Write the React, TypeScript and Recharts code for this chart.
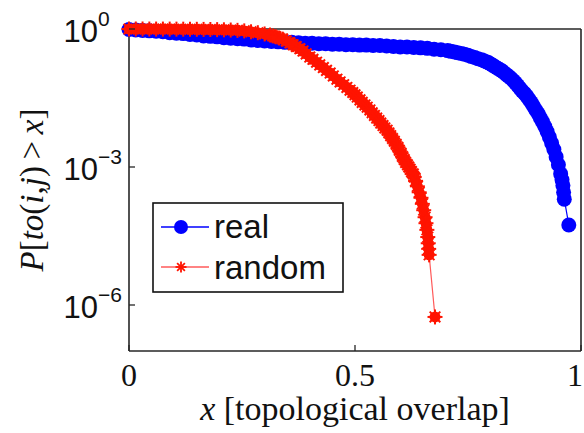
import React from 'react';
import { LineChart, Line, XAxis, YAxis, Legend } from 'recharts';

// ---- data ----
const realX = [0, 0.015, 0.03, 0.045, 0.06, 0.075, 0.09, 0.105, 0.12, 0.135, 0.15, 0.165, 0.18, 0.195, 0.21, 0.225, 0.24, 0.255, 0.27, 0.285, 0.3, 0.315, 0.33, 0.345, 0.36, 0.375, 0.39, 0.405, 0.42, 0.435, 0.45, 0.465, 0.48, 0.495, 0.51, 0.525, 0.54, 0.555, 0.57, 0.585, 0.6, 0.615, 0.63, 0.645, 0.66, 0.675, 0.69, 0.705, 0.712, 0.72, 0.727, 0.735, 0.742, 0.75, 0.757, 0.765, 0.772, 0.78, 0.785, 0.79, 0.795, 0.8, 0.805, 0.81, 0.815, 0.82, 0.825, 0.83, 0.835, 0.84, 0.845, 0.85, 0.855, 0.86, 0.865, 0.87, 0.875, 0.88, 0.885, 0.89, 0.895, 0.9, 0.905, 0.91, 0.915, 0.92, 0.925, 0.93, 0.935, 0.94, 0.945, 0.95, 0.955, 0.958, 0.96, 0.9615, 0.963, 0.973];
const realY = [0.977, 0.955, 0.933, 0.912, 0.891, 0.871, 0.832, 0.813, 0.794, 0.759, 0.741, 0.708, 0.692, 0.676, 0.646, 0.631, 0.617, 0.603, 0.575, 0.562, 0.55, 0.537, 0.525, 0.513, 0.513, 0.501, 0.49, 0.49, 0.479, 0.479, 0.468, 0.468, 0.457, 0.457, 0.447, 0.447, 0.437, 0.437, 0.427, 0.417, 0.407, 0.407, 0.398, 0.389, 0.38, 0.363, 0.355, 0.339, 0.327, 0.316, 0.305, 0.295, 0.282, 0.269, 0.254, 0.24, 0.226, 0.214, 0.204, 0.195, 0.186, 0.174, 0.162, 0.151, 0.141, 0.132, 0.123, 0.112, 0.102, 0.0933, 0.0851, 0.0759, 0.0676, 0.0589, 0.0513, 0.0447, 0.0398, 0.0347, 0.0295, 0.0251, 0.0209, 0.0174, 0.0145, 0.0117, 0.00955, 0.00759, 0.00589, 0.00447, 0.00331, 0.0024, 0.00166, 0.00112, 0.000708, 0.000525, 0.000398, 0.000282, 0.0002, 0.000055];

const randomX = [0, 0.015, 0.03, 0.045, 0.06, 0.075, 0.09, 0.105, 0.12, 0.135, 0.15, 0.165, 0.18, 0.195, 0.21, 0.225, 0.24, 0.255, 0.27, 0.285, 0.3, 0.312, 0.318, 0.325, 0.332, 0.34, 0.348, 0.356, 0.363, 0.37, 0.378, 0.385, 0.392, 0.4, 0.407, 0.415, 0.422, 0.43, 0.437, 0.445, 0.452, 0.46, 0.467, 0.475, 0.482, 0.489, 0.495, 0.5, 0.505, 0.511, 0.516, 0.522, 0.527, 0.533, 0.538, 0.543, 0.548, 0.553, 0.557, 0.562, 0.566, 0.571, 0.575, 0.579, 0.583, 0.587, 0.591, 0.595, 0.598, 0.602, 0.605, 0.609, 0.612, 0.616, 0.619, 0.622, 0.625, 0.629, 0.631, 0.634, 0.638, 0.642, 0.646, 0.649, 0.652, 0.655, 0.657, 0.659, 0.661, 0.662, 0.663, 0.664, 0.677];
const randomY = [1, 1, 1, 0.998, 0.997, 0.996, 0.995, 0.993, 0.991, 0.988, 0.985, 0.98, 0.975, 0.968, 0.96, 0.95, 0.935, 0.91, 0.87, 0.83, 0.78, 0.74, 0.708, 0.676, 0.638, 0.603, 0.55, 0.5, 0.457, 0.417, 0.372, 0.331, 0.288, 0.245, 0.219, 0.19, 0.166, 0.145, 0.126, 0.11, 0.0955, 0.0813, 0.0708, 0.0617, 0.0537, 0.0468, 0.0417, 0.0372, 0.0331, 0.0288, 0.0254, 0.0224, 0.02, 0.0174, 0.0151, 0.0132, 0.0116, 0.0102, 0.00902, 0.00794, 0.00708, 0.00631, 0.0055, 0.00479, 0.00417, 0.00363, 0.00313, 0.00269, 0.00232, 0.002, 0.0017, 0.00145, 0.00126, 0.00112, 0.001, 0.00089, 0.000794, 0.000708, 0.000603, 0.0005, 0.00038, 0.000282, 0.000214, 0.000158, 0.000115, 0.000081, 0.00006, 0.000043, 0.00003, 0.000022, 0.0000166, 0.0000123, 0.00000055];

const xTicks = [0, 0.5, 1];
const xTickLabels = ['0', '0.5', '1'];
const yTicks = [1, 1e-3, 1e-6];
const yTickExponents = ['0', '\u22123', '\u22126'];
const seriesNames = ['real', 'random'];

const realData = realX.map((x, i) => ({ x, y: realY[i] }));
const randomData = randomX.map((x, i) => ({ x, y: randomY[i] }));

const BLUE = '#0000ff';
const RED = '#ff1400';
const RED_LINE = '#ff5a5a';
const AXIS = '#262626';
const SANS = '"Liberation Sans", Arial, Helvetica, sans-serif';
const SERIF = '"Liberation Serif", "Times New Roman", serif';

function Star({ cx, cy, r, core, sw }: any) {
  const d = r * 0.7071;
  return (
    <g>
      {core > 0 && <circle cx={cx} cy={cy} r={core} fill={RED} />}
      <line x1={cx - r} y1={cy} x2={cx + r} y2={cy} stroke={RED} strokeWidth={sw} />
      <line x1={cx} y1={cy - r} x2={cx} y2={cy + r} stroke={RED} strokeWidth={sw} />
      <line x1={cx - d} y1={cy - d} x2={cx + d} y2={cy + d} stroke={RED} strokeWidth={sw} />
      <line x1={cx - d} y1={cy + d} x2={cx + d} y2={cy - d} stroke={RED} strokeWidth={sw} />
    </g>
  );
}

const renderBlueDot = (p: any) => (
  <circle key={`b-${p.index}`} cx={p.cx} cy={p.cy} r={7.5} fill={BLUE} />
);
const renderRedDot = (p: any) => (
  <g key={`r-${p.index}`}>
    <Star cx={p.cx} cy={p.cy} r={7.5} core={5.5} sw={2} />
  </g>
);

function findIdx(arr: number[], v: number) {
  for (let i = 0; i < arr.length; i++) {
    if (arr[i] === v || Math.abs(Math.log10(arr[i]) - Math.log10(v)) < 1e-6) return i;
  }
  return -1;
}

function YTickLeft(props: any) {
  const { x, y, payload } = props;
  const i = findIdx(yTicks, payload.value);
  return (
    <g>
      <line x1={x} y1={y} x2={x + 6} y2={y} stroke={AXIS} strokeWidth={1.3} />
      <text x={x - 31} y={y + 13} textAnchor="end" fontFamily={SANS} fontSize={31} fill="#111">10</text>
      <text x={x - 31} y={y - 3} textAnchor="start" fontFamily={SANS} fontSize={21} fill="#111">{yTickExponents[i]}</text>
    </g>
  );
}

function YTickRight(props: any) {
  const { x, y } = props;
  return <line x1={x - 6} y1={y} x2={x} y2={y} stroke={AXIS} strokeWidth={1.3} />;
}

function XTickBottom(props: any) {
  const { x, y, payload } = props;
  const i = xTicks.indexOf(payload.value);
  const tx = i === xTicks.length - 1 ? x - 6 : x;
  return (
    <g>
      <line x1={x} y1={y} x2={x} y2={y - 6} stroke={AXIS} strokeWidth={1.3} />
      <text x={tx} y={y + 35} textAnchor="middle" fontFamily={SERIF} fontSize={32} fill="#111">{xTickLabels[i]}</text>
    </g>
  );
}

function XTickTop(props: any) {
  const { x, y } = props;
  return <line x1={x} y1={y} x2={x} y2={y + 6} stroke={AXIS} strokeWidth={1.3} />;
}

const XTitle = (props: any) => {
  const vb = props.viewBox || { x: 129, y: 351, width: 452 };
  const cx = vb.x + vb.width / 2;
  return (
    <text x={cx} y={vb.y + 69} textAnchor="middle" fontFamily={SERIF} fontSize={34} fill="#111">
      <tspan fontStyle="italic">x</tspan>
      <tspan> [topological overlap]</tspan>
    </text>
  );
};

const YTitle = (props: any) => {
  const vb = props.viewBox || { x: 0, y: 29, width: 129, height: 322 };
  const cy = vb.y + vb.height / 2;
  const bx = 43;
  return (
    <text x={bx} y={cy} transform={`rotate(-90, ${bx}, ${cy})`} textAnchor="middle" fontFamily={SERIF} fontSize={33} fill="#111">
      <tspan fontStyle="italic">P</tspan>
      <tspan>[</tspan>
      <tspan fontStyle="italic">to</tspan>
      <tspan>(</tspan>
      <tspan fontStyle="italic">i</tspan>
      <tspan>,</tspan>
      <tspan fontStyle="italic">j</tspan>
      <tspan>){'\u2009'}&gt;{'\u2009'}</tspan>
      <tspan fontStyle="italic">x</tspan>
      <tspan>]</tspan>
    </text>
  );
};

const LegendBox = () => (
  <svg width={192} height={91} style={{ display: 'block' }}>
    <rect x={1} y={1} width={190} height={89} fill="#fff" stroke="#111" strokeWidth={1.6} />
    <line x1={9} y1={25} x2={57} y2={25} stroke={BLUE} strokeWidth={1.3} />
    <circle cx={29} cy={25} r={7} fill={BLUE} />
    <text x={62} y={36} fontFamily={SANS} fontSize={33} fill="#111">{seriesNames[0]}</text>
    <line x1={9} y1={65} x2={57} y2={65} stroke={RED_LINE} strokeWidth={1.3} />
    <Star cx={29} cy={65} r={5.5} core={0} sw={1.8} />
    <text x={62} y={77} fontFamily={SANS} fontSize={33} fill="#111">{seriesNames[1]}</text>
  </svg>
);

export default function App() {
  return (
    <div style={{ position: 'absolute', left: 0, top: 0, width: 584, height: 433, background: '#fff' }}>
      <LineChart width={584} height={433} margin={{ top: 28, right: 2, bottom: 0, left: 0 }}>
        <XAxis
          xAxisId="bottom"
          dataKey="x"
          type="number"
          domain={[0, 1]}
          ticks={xTicks}
          orientation="bottom"
          height={82}
          tickSize={0}
          tickMargin={0}
          tickLine={false}
          axisLine={{ stroke: AXIS, strokeWidth: 1.6 }}
          tick={<XTickBottom />}
          label={{ content: XTitle } as any}
          interval={0}
        />
        <XAxis
          xAxisId="top"
          dataKey="x"
          type="number"
          domain={[0, 1]}
          ticks={xTicks}
          orientation="top"
          height={1}
          tickSize={0}
          tickMargin={0}
          tickLine={false}
          axisLine={{ stroke: AXIS, strokeWidth: 1.6 }}
          tick={<XTickTop />}
          interval={0}
        />
        <YAxis
          yAxisId="left"
          type="number"
          scale="log"
          domain={[1e-7, 1]}
          ticks={yTicks}
          width={129}
          tickSize={0}
          tickMargin={0}
          tickLine={false}
          axisLine={{ stroke: AXIS, strokeWidth: 1.6 }}
          tick={<YTickLeft />}
          label={{ content: YTitle } as any}
          interval={0}
        />
        <YAxis
          yAxisId="right"
          orientation="right"
          type="number"
          scale="log"
          domain={[1e-7, 1]}
          ticks={yTicks}
          width={1}
          tickSize={0}
          tickMargin={0}
          tickLine={false}
          axisLine={{ stroke: AXIS, strokeWidth: 1.6 }}
          tick={<YTickRight />}
          interval={0}
        />
        <Line
          xAxisId="bottom"
          yAxisId="left"
          data={realData}
          dataKey="y"
          name={seriesNames[0]}
          stroke={BLUE}
          strokeWidth={1.2}
          dot={renderBlueDot}
          activeDot={false}
          isAnimationActive={false}
        />
        <Line
          xAxisId="bottom"
          yAxisId="left"
          data={randomData}
          dataKey="y"
          name={seriesNames[1]}
          stroke={RED_LINE}
          strokeWidth={1.2}
          dot={renderRedDot}
          activeDot={false}
          isAnimationActive={false}
        />
        <Legend
          layout="vertical"
          align="center"
          verticalAlign="middle"
          content={() => <LegendBox />}
          wrapperStyle={{ position: 'absolute', left: 152, top: 202, bottom: 'auto', right: 'auto', width: 192, height: 91 }}
        />
      </LineChart>
    </div>
  );
}
